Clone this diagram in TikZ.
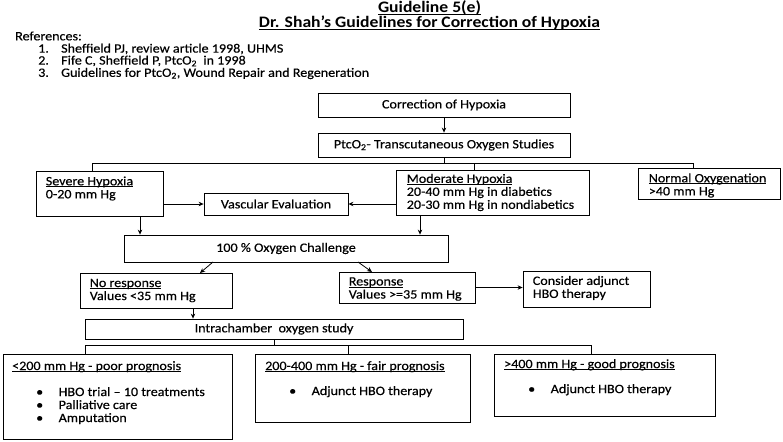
\documentclass[tikz,border=0pt]{standalone}
\usepackage{fontspec}
\setmainfont{Carlito}[FakeStretch=1.1, UprightFeatures={FakeBold=0.4}]
\usetikzlibrary{arrows.meta}
\newcommand{\ttlfont}{\fontsize{16}{15}\selectfont\bfseries}
\newcommand{\hbul}{\hspace*{24pt}\makebox[22.5pt][l]{\textbullet}}
\newlength{\ulwd}
\newcommand{\undl}[1]{\settowidth{\ulwd}{#1}\rlap{\rule[-1.7pt]{\ulwd}{0.6pt}}#1}

\begin{document}
\begin{tikzpicture}[x=1pt,y=-1pt,
  every node/.style={font=\fontsize{12.8}{13}\selectfont},
  box/.style={draw, line width=0.8pt, inner sep=0pt},
  txt/.style={inner sep=0pt, align=left, anchor=west},
  ln/.style={line width=0.8pt},
  arr/.style={ln, -{Stealth[length=5pt,width=4.5pt]}}]
\useasboundingbox (0,0) rectangle (783,441);
% heading and references
\node[align=center, inner sep=0pt, font=\ttlfont] (ttl) at (429.5,15.5) {\undl{Guideline 5(e)}\\\undl{Dr. Shah's Guidelines for Correction of Hypoxia}};
\node[txt] (refs) at (15,36) {References:};
\node[txt] (ref1) at (38,49) {\makebox[23pt][l]{1.}Sheffield PJ, review article 1998, UHMS};
\node[txt] (ref2) at (38,61) {\makebox[23pt][l]{2.}Fife C, Sheffield P, PtcO\textsubscript{2}~ in 1998};
\node[txt] (ref3) at (38,73.5) {\makebox[23pt][l]{3.}Guidelines for PtcO\textsubscript{2}, Wound Repair and Regeneration};
% measurement
\node[box, minimum width=252pt, minimum height=24pt] (corr) at (444,105) {Correction of Hypoxia};
\node[box, minimum width=252pt, minimum height=24pt] (ptco) at (444,145) {PtcO\textsubscript{2}- Transcutaneous Oxygen Studies};
\draw[arr] (corr) -- (ptco);
\node[box, minimum width=127pt, minimum height=45pt] (sev) at (99.5,193.5) {};
\node[txt, xshift=10pt, yshift=5pt] (sevtxt) at (sev.west) {\undl{Severe Hypoxia}\\0-20 mm Hg};
\node[box, minimum width=193pt, minimum height=45pt] (mod) at (492.5,192.5) {};
\node[txt, xshift=11pt] (modtxt) at (mod.west) {\undl{Moderate Hypoxia}\\20-40 mm Hg in diabetics\\20-30 mm Hg in nondiabetics};
\node[box, minimum width=142pt, minimum height=31pt] (norm) at (709,183.5) {};
\node[txt, xshift=11pt, yshift=-2pt] (normtxt) at (norm.west) {\undl{Normal Oxygenation}\\>40 mm Hg};
\node[box, minimum width=144pt, minimum height=22pt] (vasc) at (276,204) {Vascular Evaluation};
\coordinate (sevdrop) at (92,171);
\coordinate (moddrop) at (474,170);
\coordinate (normdrop) at (693,168);
\draw[ln] (ptco.south) -- ++(0,6) coordinate (j1);
\draw[ln] (sevdrop) |- (j1) -| (normdrop);
\draw[ln] (moddrop) -- (moddrop |- j1);
\draw[arr] (sev.east |- vasc) -- (vasc);
\draw[arr] (mod.west |- vasc) -- (vasc);
% oxygen challenge
\node[box, minimum width=324pt, minimum height=27pt] (chal) at (286,248.5) {100 \% Oxygen Challenge};
\coordinate (sevout) at (140,216);
\coordinate (modout) at (420,215);
\draw[arr] (sevout) -- (sevout |- chal.north);
\draw[arr] (modout) -- (modout |- chal.north);
\node[box, minimum width=152pt, minimum height=35pt] (nores) at (156,290.5) {};
\node[txt, xshift=10pt] (norestxt) at (nores.west) {\undl{No response}\\Values <35 mm Hg};
\node[box, minimum width=136pt, minimum height=31pt] (resp) at (407,287.5) {};
\node[txt, xshift=10pt, yshift=-1.5pt] (resptxt) at (resp.west) {\undl{Response}\\Values >=35 mm Hg};
\node[box, minimum width=127pt, minimum height=36pt] (cons) at (586.5,289) {};
\node[txt, xshift=10pt, yshift=1pt] (constxt) at (cons.west) {Consider adjunct\\HBO therapy};
\coordinate (c1) at (213,262);
\coordinate (c2) at (358,262);
\coordinate (n1) at (200,273);
\coordinate (r1) at (372,272);
\draw[arr] (c1) -- (n1);
\draw[arr] (c2) -- (r1);
\draw[arr] (resp.east) -- (resp.east -| cons.west);
% intrachamber study
\node[box, minimum width=378pt, minimum height=20pt] (intra) at (274,329) {Intrachamber~ oxygen study};
\coordinate (nout) at (193,308);
\draw[arr] (nout) -- (nout |- intra.north);
\coordinate (poordrop) at (85,354);
\coordinate (fairdrop) at (348,354);
\coordinate (gooddrop) at (591,354);
\draw[ln] (intra.south) -- ++(0,6) coordinate (j2);
\draw[ln] (poordrop) |- (j2) -| (gooddrop);
\draw[ln] (fairdrop) -- (fairdrop |- j2);
\node[box, minimum width=229pt, minimum height=85pt] (poor) at (117.5,396.5) {};
\node[txt, anchor=north west] (poortxt) at (12,361) {\undl{<200 mm Hg - poor prognosis}\\[13pt]\hbul HBO trial -- 10 treatments\\\hbul Palliative care\\\hbul Amputation};
\node[box, minimum width=215pt, minimum height=68pt] (fair) at (362.5,388) {};
\node[txt, anchor=north west] (fairtxt) at (265,361) {\undl{200-400 mm Hg - fair prognosis}\\[12pt]\hbul Adjunct HBO therapy};
\node[box, minimum width=221pt, minimum height=62pt] (good) at (604.5,385) {};
\node[txt, anchor=north west] (goodtxt) at (504,359) {\undl{>400 mm Hg - good prognosis}\\[12pt]\hbul Adjunct HBO therapy};
\end{tikzpicture}
\end{document}
